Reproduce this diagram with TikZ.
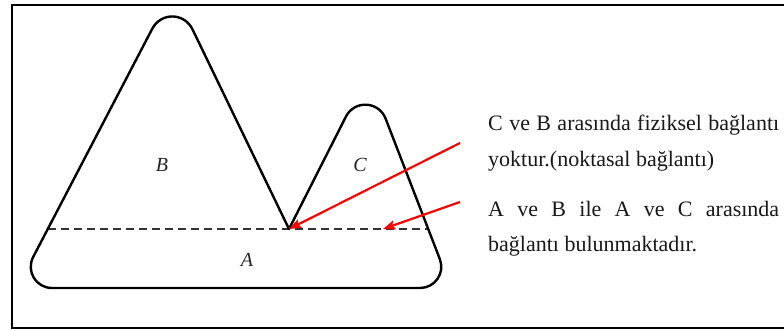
\documentclass[tikz,border=0pt]{standalone}
\usepackage{fontspec}
\setmainfont{Liberation Serif}
\usetikzlibrary{calc,arrows.meta}
\begin{document}
\begin{tikzpicture}[x=1pt,y=-1pt,
  outline/.style={line width=2.4pt, line join=round},
  framebox/.style={line width=2.6pt},
  divider/.style={line width=1.6pt, black!80, dash pattern=on 8pt off 5pt},
  redarrow/.style={red, line width=2.2pt, -{Stealth[length=12pt,width=9pt,inset=2pt]}},
  region/.style={font=\fontsize{20}{20}\selectfont\itshape, inner sep=0pt, text=black!85},
  note/.style={font=\fontsize{22}{22}\selectfont, anchor=base west, inner sep=0pt, text=black!90}]
\useasboundingbox (0,0) rectangle (784,331);
\fill[white] (0,0) rectangle (784,331);
\draw[framebox] (795,5) -- (12,5) -- (12,328) -- (795,328);
% vertices of the outline
\coordinate (P1) at (17,288);
\coordinate (PB) at (173,-11);
\coordinate (PN) at (289,229);
\coordinate (PC) at (368,73);
\coordinate (P5) at (451,288);
\coordinate (DL) at (48,229);
\coordinate (DR) at (428,229);
\draw[divider] (DL) -- (DR);
\draw[outline]
  ($(P1)!35pt!(PB)$) -- ($(PB)!45pt!(P1)$)
  .. controls ($(PB)!26pt!(P1)$) and ($(PB)!26pt!(PN)$) .. ($(PB)!45pt!(PN)$)
  -- (PN) -- ($(PC)!49pt!(PN)$)
  .. controls ($(PC)!30pt!(PN)$) and ($(PC)!30pt!(P5)$) .. ($(PC)!49pt!(P5)$)
  -- ($(P5)!31pt!(PC)$)
  .. controls ($(P5)!16pt!(PC)$) and ($(P5)!16pt!(P1)$) .. ($(P5)!31pt!(P1)$)
  -- ($(P1)!35pt!(P5)$)
  .. controls ($(P1)!19pt!(P5)$) and ($(P1)!19pt!(PB)$) .. ($(P1)!35pt!(PB)$)
  -- cycle;
\node[region] (labB) at (162,165) {B};
\node[region] (labC) at (360,165) {C};
\node[region] (labA) at (247,260) {A};
\node[note] (t1) at (488,131) {\makebox[291pt][s]{C ve B arasında fiziksel bağlantı}};
\node[note] (t2) at (488,167) {yoktur.(noktasal bağlantı)};
\node[note] (t3) at (488,216) {\makebox[291pt][s]{A ve B ile A ve C arasında}};
\node[note] (t4) at (488,251) {bağlantı bulunmaktadır.};
\coordinate (s1) at (460,143);
\coordinate (s2) at (460,202);
\coordinate (e2) at (383,229);
\draw[redarrow] (s1) -- (PN);
\draw[redarrow] (s2) -- (e2);
\end{tikzpicture}
\end{document}
